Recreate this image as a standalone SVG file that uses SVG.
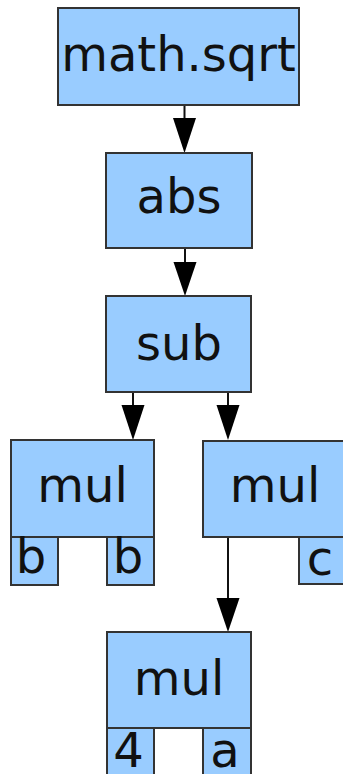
<svg xmlns="http://www.w3.org/2000/svg" width="343" height="774" viewBox="0 0 343 774">
<style>
.box{fill:#99ccff;stroke:#333333;stroke-width:2}
.lbl{font-family:"DejaVu Sans",Verdana,sans-serif;font-size:48px;fill:#111111;text-anchor:middle}
.edge{stroke:#111111;stroke-width:2;fill:none}
.head{fill:#000000;stroke:none}
</style>
<rect width="343" height="774" fill="#ffffff"/>
<g id="edges">
<line class="edge" x1="184.5" y1="105" x2="184.5" y2="120"/>
<polygon class="head" points="173,118 196,118 184.5,153"/>
<line class="edge" x1="185" y1="248" x2="185" y2="264"/>
<polygon class="head" points="173.5,262 196.5,262 185,296"/>
<line class="edge" x1="133" y1="392" x2="133" y2="407"/>
<polygon class="head" points="121.5,405 144.5,405 133,440"/>
<line class="edge" x1="228" y1="392" x2="228" y2="407"/>
<polygon class="head" points="216.5,405 239.5,405 228,440"/>
<line class="edge" x1="228" y1="537" x2="228" y2="600"/>
<polygon class="head" points="216.5,598 239.5,598 228,632"/>
</g>
<g id="n_sqrt">
<rect class="box" x="58" y="8" width="241" height="97"/>
<text class="lbl" x="178.5" y="71">math.sqrt</text>
</g>
<g id="n_abs">
<rect class="box" x="106" y="153" width="146" height="95"/>
<text class="lbl" x="179" y="213">abs</text>
</g>
<g id="n_sub">
<rect class="box" x="106" y="296" width="145" height="96"/>
<text class="lbl" x="179" y="360">sub</text>
</g>
<g id="n_mul1">
<rect class="box" x="11" y="440" width="143" height="97"/>
<text class="lbl" x="82.5" y="502">mul</text>
<rect class="box" x="11" y="537" width="47" height="48"/>
<text class="lbl" x="31" y="573">b</text>
<rect class="box" x="107" y="537" width="47" height="48"/>
<text class="lbl" x="128" y="573">b</text>
</g>
<g id="n_mul2">
<rect class="box" x="203" y="441" width="150" height="96"/>
<text class="lbl" x="275" y="502">mul</text>
<rect class="box" x="299" y="537" width="54" height="47"/>
<text class="lbl" x="320" y="575">c</text>
</g>
<g id="n_mul3">
<rect class="box" x="107" y="632" width="144" height="96"/>
<text class="lbl" x="179" y="695">mul</text>
<rect class="box" x="107" y="728" width="47" height="56"/>
<text class="lbl" x="128.5" y="767">4</text>
<rect class="box" x="203" y="728" width="48" height="56"/>
<text class="lbl" x="225" y="767">a</text>
</g>
</svg>
